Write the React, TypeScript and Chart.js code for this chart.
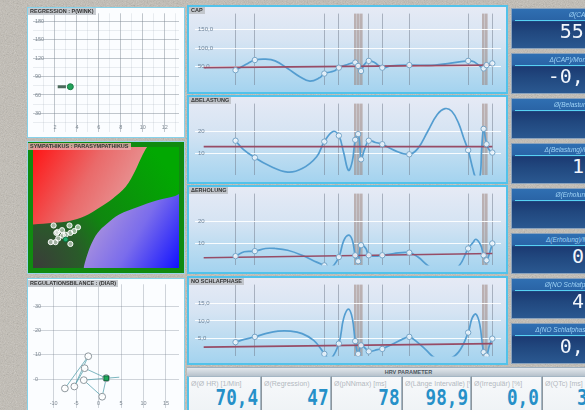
import React, { useEffect, useRef } from "react";
import { Chart, registerables } from "chart.js";
Chart.register(...registerables);

// ---------------- DATA ----------------
// measurement days (x axis of the four trend charts)
const DATES = [42, 62, 134, 149, 166, 169, 172, 180, 194, 222, 283, 299, 302, 308];
const BAND_DATES = [166, 169, 172, 299, 302];
const TREND_X = [9, 308];

// CAP
const CAP_TICKS = [50, 100, 150];
const CAP_MARKS = [40.9, 68.2, 31.8, 47.7, 61.4, 52.3, 38.6, 65.9, 47.7, 54.5, 65.9, 45.5, 54.5, 59.1];
const CAP_TRACE_X = [42, 53, 62, 73, 83, 96, 109, 119, 129, 134, 144, 149, 156, 166, 169, 172, 175, 180, 186, 194, 203, 222, 249, 283, 289, 299, 302, 308];
const CAP_TRACE_Y = [40.9, 56.8, 68.2, 70.5, 65.9, 45.5, 22.7, 11.4, 20.5, 31.8, 38.6, 47.7, 54.5, 61.4, 52.3, 38.6, 54.5, 65.9, 61.4, 47.7, 52.3, 54.5, 54.5, 65.9, 63.6, 45.5, 54.5, 59.1];
const CAP_TREND = [47.7, 54.5];

// ΔBELASTUNG
const BEL_TICKS = [10, 20];
const BEL_MARKS = [15.8, 8.1, 15.4, 18.1, 16.2, 18.8, 7.3, 15.8, 14.2, 9.6, 11.5, 21.2, 14.2, 10.4];
const BEL_TRACE_X = [42, 50, 62, 76, 96, 111, 126, 134, 143, 149, 154, 159, 163, 166, 169, 171, 172, 176, 180, 187, 194, 206, 222, 231, 241, 251, 259, 266, 273, 279, 283, 288, 291, 295, 297, 299, 302, 305, 308];
const BEL_TRACE_Y = [15.8, 11.9, 8.1, 4.6, 1.5, 3.1, 8.5, 15.4, 20, 18.1, 10.4, 2.3, 6.5, 16.2, 18.8, 12.3, 7.3, 12.3, 15.8, 15, 14.2, 11.5, 9.6, 12.3, 20, 27.7, 30.4, 29.2, 23.8, 16.2, 11.5, 2.7, -1, -1, 12.3, 21.2, 14.2, 11.5, 10.4];
const BEL_TREND = [13.1, 13.1];

// ΔERHOLUNG
const ERH_TICKS = [10, 20];
const ERH_MARKS = [4.2, 6.5, 0, 3.8, 4.6, 1.9, 9.2, 4.6, 4.6, 5.8, 7.7, 4.6, 2.3, 10];
const ERH_TRACE_X = [42, 51, 62, 73, 83, 96, 111, 126, 134, 141, 149, 154, 159, 163, 166, 169, 172, 177, 180, 187, 194, 206, 222, 231, 241, 249, 261, 273, 283, 288, 291, 296, 299, 302, 305, 308];
const ERH_TRACE_Y = [4.2, 6.2, 6.5, 7.7, 7.7, 6.9, 4.6, 1.5, 0, -1, 3.8, 11.2, 13.8, 11.5, 4.6, 1.9, 9.2, 7.7, 4.6, 4.2, 4.6, 5.4, 5.8, 3.8, 0, -2, -2, -0.4, 7.7, 10.4, 11.9, 9.2, 4.6, 2.3, 5.4, 10];
const ERH_TREND = [3.5, 5.4];

// NO SCHLAFPHASE
const SCH_TICKS = [5, 10, 15];
const SCH_MARKS = [4.0, 5.5, 0.7, 3.6, 4.3, 0.7, 3.1, 1.4, 2.1, 5.5, 6.7, 1.2, 0.2, 5.0];
const SCH_TRACE_X = [42, 51, 62, 73, 86, 99, 111, 123, 131, 134, 140, 149, 154, 159, 163, 166, 169, 172, 177, 180, 189, 196, 206, 216, 222, 229, 239, 249, 261, 273, 283, 287, 291, 295, 299, 302, 305, 308];
const SCH_TRACE_Y = [4.0, 4.8, 5.5, 6.4, 7.1, 7.1, 6.4, 4.5, 1.9, 0.7, -0.8, 3.6, 10.7, 13.3, 10.7, 4.3, 0.7, 3.1, 2.1, 1.4, 1.9, 2.4, 3.6, 5.0, 5.5, 4.3, 1.9, -0.5, -0.9, 1.2, 6.7, 10.7, 11.9, 9.0, 1.2, 0.2, 3.1, 5.0];
const SCH_TREND = [2.6, 3.6];

// REGRESSION panel
const REG_X_LABELS = [2, 4, 6, 8, 10, 12];
const REG_Y_LABELS = [30, 60, 90, 120, 150, 180];
const REG_BAR_X = [2.25, 3.0];
const REG_BAR_Y = [73.5, 73.5];
const REG_POINT = [3.4, 73.5];

// SYMPATHIKUS : PARASYMPATHIKUS panel
const SYM_RED_X = [0, 14.1, 25, 35.3, 46.2, 54.5, 63.5, 69.9, 73.7, 76.9, 78.2];
const SYM_RED_Y = [28.7, 29.9, 31.1, 34.2, 40.3, 45.8, 53.7, 64.1, 72.1, 78.2, 80];
const SYM_BLUE_X = [34.6, 36.5, 39.7, 44.2, 50.6, 59, 71.8, 84.6, 97.4, 100];
const SYM_BLUE_Y = [0, 6.7, 15.3, 23.2, 29.3, 35.4, 40.3, 44.6, 47.6, 48.9];
const SYM_PTS_X = [14.1, 16.7, 19.9, 15.4, 12.2, 17.3, 25.0, 25.6, 28.2, 30.8, 25.6, 22.4, 20.5, 16.0];
const SYM_PTS_Y = [28.1, 23.8, 25.0, 17.1, 17.1, 19.5, 28.1, 23.2, 24.4, 26.9, 15.9, 22.0, 21.4, 23.2];
const SYM_LAST = [22.4, 18.9];

// REGULATIONSBILANCE panel
const DIAR_X_LABELS = [-10, -5, 0, 5, 10, 15];
const DIAR_Y_LABELS = [0, 10, 20, 30];
const DIAR_X = [-7.5, -2.3, -5.4, -3.1, 1.7, -3.3, 0.8, 1.7, 4.6];
const DIAR_Y = [-3.8, 9.4, -3.0, 4.5, 0.4, -0.4, -7.2, 0.4, 0.8];
const DIAR_LAST = [1.7, 0.4];

// KPI boxes
const KPI_TITLES = ["Ø(CAP) [%]", "Δ(CAP)/Monat [%/Monat]", "Ø(Belastung) [Punkte]", "Δ(Belastung)/Monat [Punkte]", "Ø(Erholung) [Punkte]", "Δ(Erholung)/Monat [Punkte]", "Ø(NO Schlafphase) [Punkte]", "Δ(NO Schlafphase)/Monat [Punkte]"];
const KPI_VALUES = ["55,4", "-0,12", "", "1,2", "", "0,5", "4,2", "0,04"];
const HRV_TITLES = ["Ø(Ø HR) [1/Min]", "Ø(Regression)", "Ø(pNNmax) [ms]", "Ø(Länge Intervalle) [%]", "Ø(Irregulär) [%]", "Ø(QTc) [ms]"];
const HRV_VALUES = ["70,4", "47", "78", "98,9", "0,0", "395"];

// ---------------- HELPERS ----------------
const FONT = "'Liberation Sans', Arial, sans-serif";
const MONO = "'DejaVu Sans Mono', monospace";
type Pt = { x: number; y: number };
const pts = (xs: number[], ys: number[]): Pt[] => xs.map((x, i) => ({ x, y: ys[i] }));
const steps = (a: number, b: number, s: number) => {
  const out: number[] = [];
  for (let v = a; v <= b + 1e-9; v += s) out.push(Math.round(v * 1000) / 1000);
  return out;
};
const comma1 = (v: number) => v.toFixed(1).replace(".", ",");

const BASE = {
  animation: false,
  responsive: false,
  maintainAspectRatio: false,
  devicePixelRatio: 1,
  events: [],
  layout: { padding: 0 },
  plugins: { legend: { display: false }, tooltip: { enabled: false }, title: { display: false } },
};

function ChartCanvas({ left, top, width, height, make }: any) {
  const ref = useRef<HTMLCanvasElement>(null);
  useEffect(() => {
    const chart = new Chart(ref.current as HTMLCanvasElement, make());
    return () => chart.destroy();
  }, []);
  return (
    <canvas
      ref={ref}
      width={width}
      height={height}
      style={{ position: "absolute", left, top, width, height, display: "block" }}
    />
  );
}

function lineConfig(marks: number[], tx: number[], ty: number[], trend: number[], ticks: number[], max: number, fmt: (v: number) => string): any {
  return {
    type: "scatter",
    data: {
      datasets: [
        {
          data: pts(DATES, marks),
          showLine: false,
          pointRadius: 2.7,
          pointBackgroundColor: "rgba(246,250,255,0.85)",
          pointBorderColor: "#73a3c6",
          pointBorderWidth: 1,
        },
        { data: pts(TREND_X, trend), showLine: true, borderColor: "#974c66", borderWidth: 1.6, pointRadius: 0 },
        { data: pts(tx, ty), showLine: true, borderColor: "#549dd0", borderWidth: 1.7, tension: 0.4, pointRadius: 0 },
      ],
    },
    options: {
      ...BASE,
      scales: {
        x: {
          type: "linear",
          min: 0,
          max: 317,
          afterBuildTicks: (a: any) => {
            a.ticks = DATES.map((v) => ({ value: v }));
          },
          ticks: { display: false },
          grid: {
            drawTicks: false,
            color: (c: any) => (BAND_DATES.includes(c.tick?.value) ? "rgba(156,132,124,0.55)" : "rgba(112,122,138,0.5)"),
            lineWidth: (c: any) => (BAND_DATES.includes(c.tick?.value) ? 2.6 : 1),
          },
          border: { display: false },
        },
        y: {
          type: "linear",
          min: 0,
          max,
          afterBuildTicks: (a: any) => {
            a.ticks = ticks.map((v) => ({ value: v }));
          },
          ticks: { mirror: true, padding: 3, color: "#6f8499", font: { size: 6, family: FONT }, callback: (v: any) => fmt(Number(v)) },
          grid: { drawTicks: false, color: "rgba(255,255,255,0.9)", lineWidth: 1 },
          border: { display: false },
        },
      },
    },
  };
}

function regConfig(): any {
  return {
    type: "scatter",
    data: {
      datasets: [
        { data: [{ x: REG_POINT[0], y: REG_POINT[1] }], pointRadius: 3, pointBackgroundColor: "#22a35a", pointBorderColor: "#1a7a44", pointBorderWidth: 1 },
        { data: pts(REG_BAR_X, REG_BAR_Y), showLine: true, borderColor: "#4d6a5c", borderWidth: 3, pointRadius: 0 },
      ],
    },
    options: {
      ...BASE,
      scales: {
        x: {
          type: "linear",
          min: 0,
          max: 13.3,
          afterBuildTicks: (a: any) => {
            a.ticks = steps(1, 13, 1).map((v) => ({ value: v }));
          },
          ticks: { mirror: true, padding: 1, autoSkip: false, maxRotation: 0, color: "#7d8892", font: { size: 5.5, family: FONT }, callback: (v: any) => (REG_X_LABELS.includes(Number(v)) ? String(v) : "") },
          grid: { drawTicks: false, color: (c: any) => (REG_X_LABELS.includes(c.tick?.value) ? "rgba(120,130,142,0.45)" : "rgba(150,160,172,0.18)") },
          border: { display: false },
        },
        y: {
          type: "linear",
          min: 0,
          max: 193.5,
          afterBuildTicks: (a: any) => {
            a.ticks = steps(15, 180, 15).map((v) => ({ value: v }));
          },
          ticks: { mirror: true, padding: 2, autoSkip: false, color: "#7d8892", font: { size: 5.5, family: FONT }, callback: (v: any) => (REG_Y_LABELS.includes(Number(v)) ? String(v) : "") },
          grid: { drawTicks: false, color: (c: any) => (REG_Y_LABELS.includes(c.tick?.value) ? "rgba(120,130,142,0.45)" : "rgba(150,160,172,0.18)") },
          border: { display: false },
        },
      },
    },
  };
}

const symBg = {
  id: "symBg",
  beforeDatasetsDraw(chart: any) {
    const { ctx, chartArea: a } = chart;
    const g = ctx.createRadialGradient(a.left, a.bottom, 0, a.left, a.bottom, a.width * 1.15);
    g.addColorStop(0, "#3b3b3a");
    g.addColorStop(0.28, "#2a5a2a");
    g.addColorStop(0.5, "#0f870f");
    g.addColorStop(1, "#02a802");
    ctx.save();
    ctx.fillStyle = g;
    ctx.fillRect(a.left, a.top, a.width, a.height);
    ctx.restore();
  },
};

function symConfig(): any {
  return {
    type: "scatter",
    data: {
      datasets: [
        { data: [{ x: SYM_LAST[0], y: SYM_LAST[1] }], pointRadius: 2.4, pointBackgroundColor: "#1fb070", pointBorderColor: "#0e7040", pointBorderWidth: 1 },
        { data: pts(SYM_PTS_X, SYM_PTS_Y), pointRadius: 2.6, pointBackgroundColor: "rgba(255,255,255,0.55)", pointBorderColor: "rgba(255,255,255,0.95)", pointBorderWidth: 1 },
        {
          data: pts(SYM_RED_X, SYM_RED_Y),
          showLine: true,
          fill: "end",
          tension: 0.35,
          borderWidth: 0,
          pointRadius: 0,
          backgroundColor: (c: any) => {
            const a = c.chart.chartArea;
            if (!a) return "#f04040";
            const g = c.chart.ctx.createLinearGradient(a.left, a.top, a.left + a.width * 0.75, a.top + a.height * 0.5);
            g.addColorStop(0, "#ff1414");
            g.addColorStop(0.5, "#ea6a6a");
            g.addColorStop(1, "#e6a2a2");
            return g;
          },
        },
        {
          data: pts(SYM_BLUE_X, SYM_BLUE_Y),
          showLine: true,
          fill: "start",
          tension: 0.35,
          borderWidth: 0,
          pointRadius: 0,
          backgroundColor: (c: any) => {
            const a = c.chart.chartArea;
            if (!a) return "#6060ff";
            const g = c.chart.ctx.createLinearGradient(a.left + a.width * 0.38, a.top + a.height * 0.55, a.right, a.bottom);
            g.addColorStop(0, "#b49ada");
            g.addColorStop(0.5, "#7a6cec");
            g.addColorStop(1, "#1212ff");
            return g;
          },
        },
      ],
    },
    options: {
      ...BASE,
      scales: {
        x: {
          type: "linear",
          min: 0,
          max: 100,
          z: 1,
          afterBuildTicks: (a: any) => {
            a.ticks = steps(5, 95, 5).map((v) => ({ value: v }));
          },
          ticks: { display: false },
          grid: { drawTicks: false, color: "rgba(255,255,255,0.42)" },
          border: { display: false },
        },
        y: {
          type: "linear",
          min: 0,
          max: 80,
          z: 1,
          afterBuildTicks: (a: any) => {
            a.ticks = steps(5, 75, 5).map((v) => ({ value: v }));
          },
          ticks: { display: false },
          grid: { drawTicks: false, color: "rgba(255,255,255,0.42)" },
          border: { display: false },
        },
      },
    },
    plugins: [symBg],
  };
}

function diarConfig(): any {
  return {
    type: "scatter",
    data: {
      datasets: [
        { data: [{ x: DIAR_LAST[0], y: DIAR_LAST[1] }], pointStyle: "rect", pointRadius: 3.2, pointBackgroundColor: "#1fa85a", pointBorderColor: "#127040", pointBorderWidth: 1 },
        {
          data: pts(DIAR_X, DIAR_Y),
          showLine: true,
          borderColor: "rgba(80,158,170,0.75)",
          borderWidth: 1,
          pointRadius: DIAR_X.map((_, i) => (i === DIAR_X.length - 1 ? 0 : 3.4)),
          pointBackgroundColor: "rgba(255,255,255,0.9)",
          pointBorderColor: "#8d979d",
          pointBorderWidth: 1,
        },
      ],
    },
    options: {
      ...BASE,
      scales: {
        x: {
          type: "linear",
          min: -14.6,
          max: 17.9,
          afterBuildTicks: (a: any) => {
            a.ticks = DIAR_X_LABELS.map((v) => ({ value: v }));
          },
          ticks: { mirror: true, padding: 1, autoSkip: false, maxRotation: 0, color: "#7d8892", font: { size: 5.5, family: FONT } },
          grid: { drawTicks: false, color: "rgba(125,135,148,0.35)" },
          border: { display: false },
        },
        y: {
          type: "linear",
          min: -11.7,
          max: 38.9,
          afterBuildTicks: (a: any) => {
            a.ticks = DIAR_Y_LABELS.map((v) => ({ value: v }));
          },
          ticks: { mirror: true, padding: 2, autoSkip: false, color: "#7d8892", font: { size: 5.5, family: FONT } },
          grid: { drawTicks: false, color: "rgba(125,135,148,0.35)" },
          border: { display: false },
        },
      },
    },
  };
}

// ---------------- LAYOUT ----------------
const NOISE =
  "url(\"data:image/svg+xml,%3Csvg xmlns='http://www.w3.org/2000/svg' width='160' height='160'%3E%3Cfilter id='n'%3E%3CfeTurbulence type='fractalNoise' baseFrequency='0.9' numOctaves='3' stitchTiles='stitch'/%3E%3CfeColorMatrix type='saturate' values='0'/%3E%3C/filter%3E%3Crect width='160' height='160' filter='url(%23n)' opacity='0.5'/%3E%3C/svg%3E\")";

const tagStyle = (left: number, top: number, bg: string): React.CSSProperties => ({
  position: "absolute",
  left,
  top,
  font: `bold 5.5px ${FONT}`,
  lineHeight: "7px",
  color: "#333",
  background: bg,
  padding: "0 2px",
  whiteSpace: "nowrap",
});

const LINE_PANELS = [
  { top: 5, tag: "CAP", make: () => lineConfig(CAP_MARKS, CAP_TRACE_X, CAP_TRACE_Y, CAP_TREND, CAP_TICKS, 193, comma1) },
  { top: 95, tag: "ΔBELASTUNG", make: () => lineConfig(BEL_MARKS, BEL_TRACE_X, BEL_TRACE_Y, BEL_TREND, BEL_TICKS, 32.7, (v) => String(v)) },
  { top: 185, tag: "ΔERHOLUNG", make: () => lineConfig(ERH_MARKS, ERH_TRACE_X, ERH_TRACE_Y, ERH_TREND, ERH_TICKS, 32.7, (v) => String(v)) },
  { top: 276, tag: "NO SCHLAFPHASE", make: () => lineConfig(SCH_MARKS, SCH_TRACE_X, SCH_TRACE_Y, SCH_TREND, SCH_TICKS, 20.2, comma1) },
];

const HRV_LEFT = [187, 261, 331, 402, 471, 542, 612];

export default function App() {
  return (
    <div
      style={{
        position: "fixed",
        left: 0,
        top: 0,
        width: 585,
        height: 410,
        overflow: "hidden",
        backgroundColor: "#c2bdb4",
        backgroundImage: NOISE,
        fontFamily: FONT,
      }}
    >
      {/* left panels */}
      <div style={{ position: "absolute", left: 27, top: 7, width: 158, height: 131, boxSizing: "border-box", border: "1px solid #86d2ea", background: "#fbfdff" }} />
      <ChartCanvas left={28} top={8} width={156} height={129} make={regConfig} />
      <div style={tagStyle(28, 8, "rgba(196,200,206,0.95)")}>REGRESSION : P(WINK)</div>

      <div style={{ position: "absolute", left: 27, top: 141, width: 158, height: 133, boxSizing: "border-box", border: "1px solid #9ad4ea", background: "#108a10" }} />
      <ChartCanvas left={28} top={142} width={156} height={131} make={symConfig} />
      <div style={tagStyle(28, 143, "rgba(232,170,170,0.85)")}>SYMPATHIKUS : PARASYMPATHIKUS</div>

      <div style={{ position: "absolute", left: 27, top: 278, width: 158, height: 136, boxSizing: "border-box", border: "1px solid #86d2ea", background: "#fbfdff" }} />
      <ChartCanvas left={28} top={279} width={156} height={134} make={diarConfig} />
      <div style={tagStyle(28, 280, "rgba(196,200,206,0.95)")}>REGULATIONSBILANCE : (DIAR)</div>

      {/* trend charts */}
      {LINE_PANELS.map((p) => (
        <React.Fragment key={p.tag}>
          <div
            style={{
              position: "absolute",
              left: 187,
              top: p.top,
              width: 321,
              height: 89,
              boxSizing: "border-box",
              border: "2px solid #52c2ea",
              background: "linear-gradient(to bottom, #e6eaf5 0%, #d6e4f3 40%, #bcdcf1 70%, #a4d3ef 100%)",
            }}
          />
          <ChartCanvas left={189} top={p.top + 2} width={317} height={85} make={p.make} />
          <div style={tagStyle(189, p.top + 2, "rgba(190,194,200,0.9)")}>{p.tag}</div>
        </React.Fragment>
      ))}

      {/* KPI boxes on the right */}
      {KPI_TITLES.map((t, i) => (
        <div
          key={t}
          style={{
            position: "absolute",
            left: 511,
            top: 8 + i * 45,
            width: 150,
            height: 41,
            boxSizing: "border-box",
            border: "1px solid #8aa2bc",
            background: "linear-gradient(to bottom, #2f6fb2 0px, #2a64a6 11px, #1b3a72 13px, #21487f 60%, #2a5890 100%)",
            overflow: "hidden",
          }}
        >
          <div style={{ position: "absolute", top: 2, left: 0, right: 0, textAlign: "center", font: `italic 6.5px ${FONT}`, color: "#9fd3f6", whiteSpace: "nowrap" }}>{t}</div>
          <div style={{ position: "absolute", top: 11, left: 3, right: 3, height: 1, background: "#57d2f3" }} />
          <div style={{ position: "absolute", right: 52, top: 11, font: `20px ${MONO}`, lineHeight: "22px", color: "#f2f6fc", whiteSpace: "nowrap" }}>{KPI_VALUES[i]}</div>
        </div>
      ))}

      {/* HRV parameter row */}
      <div
        style={{
          position: "absolute",
          left: 187,
          top: 367,
          width: 443,
          height: 9,
          background: "linear-gradient(to bottom, #e2e7ec, #b6c2cc)",
          borderTop: "1px solid #9fb0be",
          boxSizing: "border-box",
          textAlign: "center",
          font: `bold 5.5px ${FONT}`,
          lineHeight: "8px",
          color: "#4d5660",
        }}
      >
        HRV PARAMETER
      </div>
      {HRV_TITLES.map((t, i) => (
        <div
          key={t}
          style={{
            position: "absolute",
            left: HRV_LEFT[i],
            top: 376,
            width: HRV_LEFT[i + 1] - HRV_LEFT[i],
            height: 40,
            boxSizing: "border-box",
            border: "1px solid #a4b6c4",
            borderLeft: i === 0 ? "2px solid #52c2ea" : "1px solid #8c969e",
            background: "linear-gradient(to bottom, #f7f9fb, #eef2f5)",
            overflow: "hidden",
          }}
        >
          <div style={{ position: "absolute", top: 3, left: 2, font: `7px ${FONT}`, color: "#b3b8c0", whiteSpace: "nowrap" }}>{t}</div>
          <div
            style={{
              position: "absolute",
              right: 2,
              top: 9,
              font: `bold 22px ${MONO}`,
              lineHeight: "24px",
              color: "#2690c8",
              whiteSpace: "nowrap",
              transform: "scaleX(0.8)",
              transformOrigin: "right center",
            }}
          >
            {HRV_VALUES[i]}
          </div>
        </div>
      ))}
    </div>
  );
}
